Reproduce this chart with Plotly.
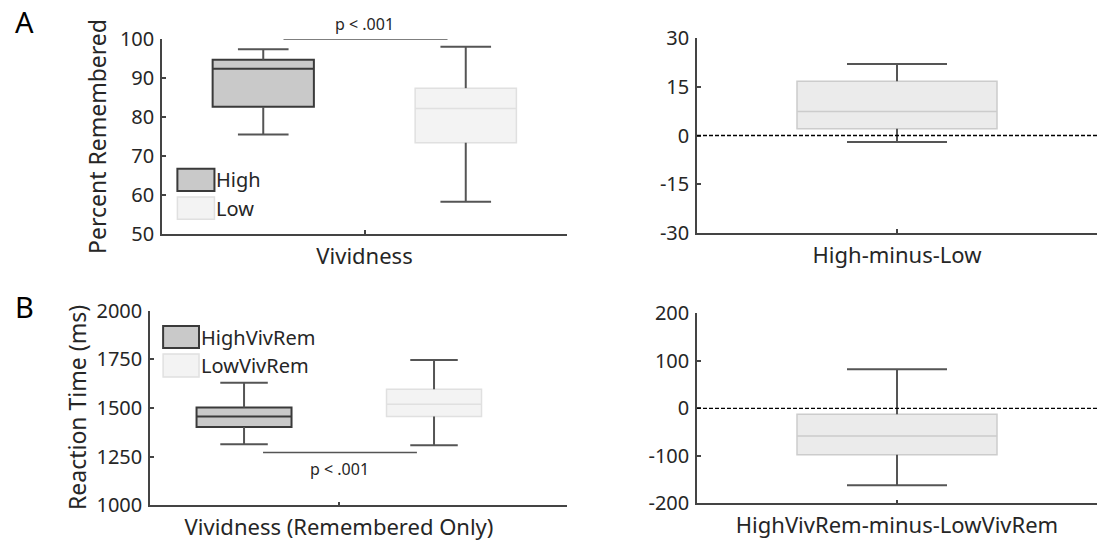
import plotly.graph_objects as go

W, H = 1098, 544

# ---------------- data ----------------
# Panel A: percent remembered by vividness
a_groups = ["High", "Low"]
a_lower = [75.5, 58.3]
a_q1 = [82.6, 73.4]
a_median = [92.4, 82.2]
a_q3 = [94.7, 87.4]
a_upper = [97.4, 98.0]

# Panel A difference
ad_lower = [-2.0]
ad_q1 = [2.1]
ad_median = [7.4]
ad_q3 = [16.7]
ad_upper = [22.0]

# Panel B: reaction time (remembered only)
b_groups = ["HighVivRem", "LowVivRem"]
b_lower = [1314, 1309]
b_q1 = [1403, 1456]
b_median = [1456, 1519]
b_q3 = [1502, 1596]
b_upper = [1630, 1747]

# Panel B difference
bd_lower = [-162]
bd_q1 = [-97.7]
bd_median = [-58.5]
bd_q3 = [-12.6]
bd_upper = [82]

a_ticks = [50, 60, 70, 80, 90, 100]
ad_ticks = [-30, -15, 0, 15, 30]
b_ticks = [1000, 1250, 1500, 1750, 2000]
bd_ticks = [-200, -100, 0, 100, 200]

# ---------------- styles ----------------
FONT = "Noto Sans"
TXT = "#262626"
AX = "#444444"
WHISK = "#555555"
fill_high, edge_high = "#c9c9c9", "#3a3a3a"
fill_low, edge_low = "#f3f3f3", "#e0e0e0"
fill_diff, edge_diff = "#ebebeb", "#cccccc"

fig = go.Figure()


def px_x(p):
    return p / W


def px_y(p):
    return 1 - p / H


def add_box(xpos, q1, med, q3, lo, up, fill, edge, lw, xa, ya, width=0.5):
    cap = width * 0.25
    xs = [xpos, xpos, None, xpos, xpos, None,
          xpos - cap, xpos + cap, None, xpos - cap, xpos + cap]
    ys = [q3, up, None, q1, lo, None, up, up, None, lo, lo]
    fig.add_trace(go.Scatter(x=xs, y=ys, mode="lines",
                             line=dict(color=WHISK, width=2),
                             xaxis=xa, yaxis=ya, showlegend=False,
                             hoverinfo="skip"))
    fig.add_trace(go.Box(x=[xpos], q1=[q1], median=[med], q3=[q3],
                         lowerfence=[q1], upperfence=[q3],
                         width=width, whiskerwidth=0,
                         fillcolor=fill, line=dict(color=edge, width=lw),
                         xaxis=xa, yaxis=ya, showlegend=False,
                         boxpoints=False))


fills = [fill_high, fill_low]
edges = [edge_high, edge_low]
lws = [2, 1.5]
for i in range(2):
    add_box(i + 1, a_q1[i], a_median[i], a_q3[i], a_lower[i], a_upper[i],
            fills[i], edges[i], lws[i], "x", "y")
add_box(1, ad_q1[0], ad_median[0], ad_q3[0], ad_lower[0], ad_upper[0],
        fill_diff, edge_diff, 1.5, "x2", "y2")
for i in range(2):
    add_box(i + 1, b_q1[i], b_median[i], b_q3[i], b_lower[i], b_upper[i],
            fills[i], edges[i], lws[i], "x3", "y3")
add_box(1, bd_q1[0], bd_median[0], bd_q3[0], bd_lower[0], bd_upper[0],
        fill_diff, edge_diff, 1.5, "x4", "y4")


def yax(dom_px, rng, ticks, anchor):
    return dict(domain=[px_y(dom_px[1]), px_y(dom_px[0])], range=rng,
                tickvals=ticks, ticktext=[str(t) for t in ticks],
                ticks="inside", ticklen=4, tickwidth=1.5, tickcolor=AX,
                showline=True, linecolor=AX, linewidth=1.5,
                showgrid=False, zeroline=False, anchor=anchor,
                automargin=False,
                tickfont=dict(family=FONT, size=20, color=TXT),
                ticklabelstandoff=2)


def xax(dom_px, rng, tickpos, label, anchor):
    return dict(domain=[px_x(dom_px[0]), px_x(dom_px[1])], range=rng,
                tickvals=[tickpos], ticktext=[label],
                ticks="inside", ticklen=4, tickwidth=1.5, tickcolor=AX,
                showline=True, linecolor=AX, linewidth=1.5,
                showgrid=False, zeroline=False, anchor=anchor,
                automargin=False,
                tickfont=dict(family=FONT, size=22, color=TXT),
                ticklabelstandoff=2)


fig.update_layout(
    template="none",
    width=W, height=H,
    margin=dict(l=0, r=0, t=0, b=0, autoexpand=False),
    paper_bgcolor="white", plot_bgcolor="white",
    showlegend=False,
    xaxis=xax((162, 567), [0.5, 2.5], 1.5, "Vividness", "y"),
    yaxis=yax((39, 234), [50, 100], a_ticks, "x"),
    xaxis2=xax((697, 1097), [0.5, 1.5], 1, "High-minus-Low", "y2"),
    yaxis2=yax((38, 233), [-30, 30], ad_ticks, "x2"),
    xaxis3=xax((150, 567), [0.505, 2.70], 1.5, "Vividness (Remembered Only)", "y3"),
    yaxis3=yax((310.7, 505.3), [1000, 2000], b_ticks, "x3"),
    xaxis4=xax((697, 1097), [0.5, 1.5], 1, "HighVivRem-minus-LowVivRem", "y4"),
    yaxis4=yax((313.3, 503.3), [-200, 200], bd_ticks, "x4"),
)

shapes = []
annots = []

for xa, ya in [("x2", "y2"), ("x4", "y4")]:
    shapes.append(dict(type="line", xref=f"{xa} domain", yref=ya,
                       x0=0, x1=1, y0=0, y1=0,
                       line=dict(color="black", width=1.3, dash="4px,2px")))

shapes.append(dict(type="line", xref="x", yref="y", x0=1.1, x1=1.91,
                   y0=100, y1=100, line=dict(color=WHISK, width=1.5)))
annots.append(dict(xref="x", yref="paper", x=1.5, y=px_y(24), text="p < .001",
                   xanchor="center", yanchor="middle",
                   showarrow=False, font=dict(family=FONT, size=16, color=TXT)))
shapes.append(dict(type="line", xref="x3", yref="y3", x0=1.1, x1=1.91,
                   y0=1271, y1=1271, line=dict(color=WHISK, width=1.5)))
annots.append(dict(xref="x3", yref="y3", x=1.5, y=1187, text="p < .001",
                   xanchor="center", yanchor="middle",
                   showarrow=False, font=dict(family=FONT, size=16, color=TXT)))


def legend(xa, ya, x0, x1, rows):
    for (y0, y1, fill, edge, lw, label) in rows:
        shapes.append(dict(type="rect", xref=xa, yref=ya, x0=x0, x1=x1,
                           y0=y0, y1=y1, fillcolor=fill,
                           line=dict(color=edge, width=lw)))
        annots.append(dict(xref=xa, yref=ya, x=x1, y=(y0 + y1) / 2,
                           text=label, showarrow=False, xanchor="left",
                           yanchor="middle",
                           xshift=0, font=dict(family=FONT, size=20, color=TXT)))


legend("x", "y", 0.576, 0.759, [
    (61.0, 66.7, fill_high, edge_high, 2, a_groups[0]),
    (53.8, 59.5, fill_low, edge_low, 1.5, a_groups[1]),
])
legend("x3", "y3", 0.574, 0.763, [
    (1808, 1921, fill_high, edge_high, 2, b_groups[0]),
    (1659, 1778, fill_low, edge_low, 1.5, b_groups[1]),
])

annots.append(dict(xref="paper", yref="paper", x=px_x(97), y=px_y(137),
                   xanchor="center", yanchor="middle",
                   text="Percent Remembered", textangle=-90, showarrow=False,
                   font=dict(family=FONT, size=23, color=TXT)))
annots.append(dict(xref="paper", yref="paper", x=px_x(77), y=px_y(408),
                   xanchor="center", yanchor="middle",
                   text="Reaction Time (ms)", textangle=-90, showarrow=False,
                   font=dict(family=FONT, size=23, color=TXT)))

annots.append(dict(xref="paper", yref="paper", x=px_x(24), y=px_y(22),
                   xanchor="center", yanchor="middle",
                   text="A", showarrow=False,
                   font=dict(family=FONT, size=29, color="black")))
annots.append(dict(xref="paper", yref="paper", x=px_x(24), y=px_y(306),
                   xanchor="center", yanchor="middle",
                   text="B", showarrow=False,
                   font=dict(family=FONT, size=29, color="black")))

fig.update_layout(shapes=shapes, annotations=annots)
fig.write_html("out.html")
